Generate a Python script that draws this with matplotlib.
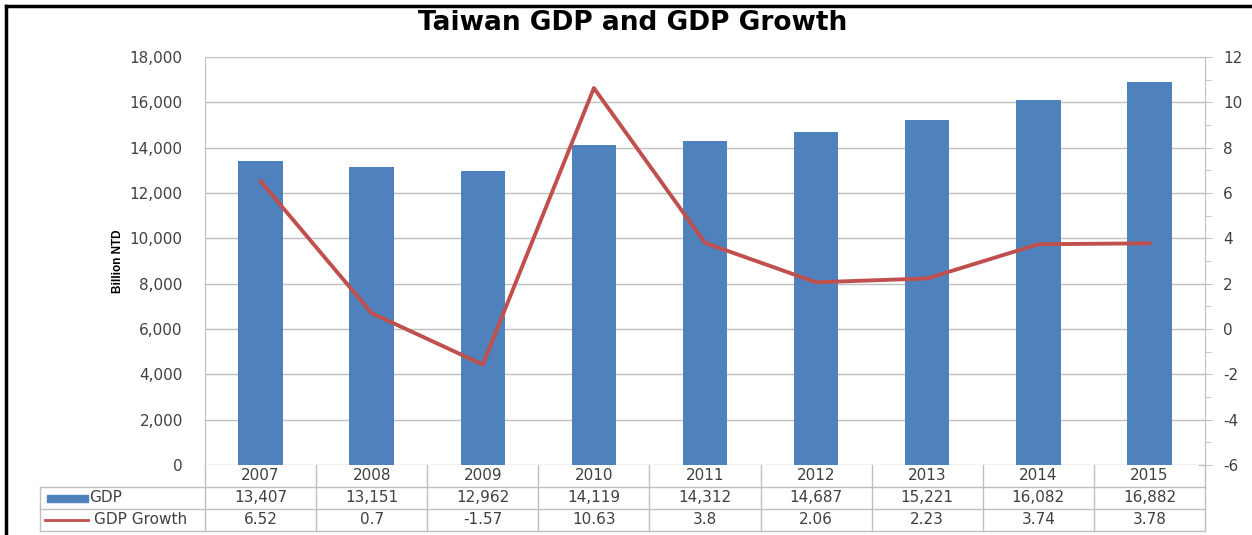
import matplotlib.pyplot as plt
from matplotlib.lines import Line2D
from matplotlib.patches import Rectangle
from matplotlib.ticker import FuncFormatter, MultipleLocator

plt.rcParams["axes.unicode_minus"] = False

# Chart data
years = ["2007", "2008", "2009", "2010", "2011", "2012", "2013", "2014", "2015"]
gdp = [13407, 13151, 12962, 14119, 14312, 14687, 15221, 16082, 16882]
gdp_growth = [6.52, 0.7, -1.57, 10.63, 3.8, 2.06, 2.23, 3.74, 3.78]
gdp_labels = ["13,407", "13,151", "12,962", "14,119", "14,312",
              "14,687", "15,221", "16,082", "16,882"]
growth_labels = ["6.52", "0.7", "-1.57", "10.63", "3.8",
                 "2.06", "2.23", "3.74", "3.78"]

BLUE = "#4F81BD"
RED = "#C0504D"
GRID = "#BFBFBF"
TXT = "#404040"
FS = 11

W, H = 1252, 535
fig = plt.figure(figsize=(W / 100, H / 100), dpi=100)

# plot area in pixels: x 205..1205, y 57..465
px0, px1, py0, py1 = 205, 1205, 57, 465
ax = fig.add_axes([px0 / W, 1 - py1 / H, (px1 - px0) / W, (py1 - py0) / H])
ax2 = ax.twinx()

x = list(range(len(years)))
ax.bar(x, gdp, width=0.4, color=BLUE, zorder=2)
ax.set_xlim(-0.5, len(years) - 0.5)
ax.set_ylim(0, 18000)
ax.yaxis.set_major_locator(MultipleLocator(2000))
ax.yaxis.set_major_formatter(FuncFormatter(lambda v, p: f"{int(v):,}"))
ax.grid(axis="y", color=GRID, linewidth=1, zorder=0)
ax.set_axisbelow(True)
ax.tick_params(axis="y", length=0, pad=16, labelsize=FS, labelcolor=TXT)
ax.tick_params(axis="x", length=0, labelbottom=False)
for s in ["top", "right", "bottom"]:
    ax.spines[s].set_visible(False)
ax.spines["left"].set_color(GRID)

ax2.plot(x, gdp_growth, color=RED, linewidth=2.8, zorder=3)
ax2.set_ylim(-6, 12)
ax2.yaxis.set_major_locator(MultipleLocator(2))
ax2.yaxis.set_minor_locator(MultipleLocator(1))
ax2.tick_params(axis="y", which="major", direction="inout", length=10,
                color=GRID, pad=8, labelsize=FS, labelcolor=TXT)
ax2.tick_params(axis="y", which="minor", direction="out", length=4, color=GRID)
for s in ["top", "left", "bottom"]:
    ax2.spines[s].set_visible(False)
ax2.spines["right"].set_color(GRID)

ax.set_ylabel("Billion NTD", family=["Liberation Sans Narrow", "Liberation Sans"],
              fontweight="bold", fontsize=8.5, color="black")
ax.yaxis.set_label_coords((124 - px0) / (px1 - px0), 0.5)

fig.text(0.505, 1 - 23 / H, "Taiwan GDP and GDP Growth", ha="center", va="center",
         fontsize=19, fontweight="bold", color="black")

# data table below the plot
ph = py1 - py0
def fy(py):
    return (py1 - py) / ph

tr = ax.get_xaxis_transform()
row_lines = [465, 487, 509, 531]
row_mid = [476, 498, 520]
left_px = 40
left_x = -0.5 + (left_px - px0) / ((px1 - px0) / len(years))

for py in row_lines[1:]:
    ax.add_line(Line2D([left_x, len(years) - 0.5], [fy(py), fy(py)], transform=tr,
                       color=GRID, linewidth=1, clip_on=False))
for i in range(len(years) + 1):
    ax.add_line(Line2D([i - 0.5, i - 0.5], [fy(465), fy(531)], transform=tr,
                       color=GRID, linewidth=1, clip_on=False))
ax.add_line(Line2D([left_x, left_x], [fy(487), fy(531)], transform=tr,
                   color=GRID, linewidth=1, clip_on=False))

for i in x:
    ax.text(i, fy(row_mid[0]), years[i], transform=tr, ha="center", va="center",
            fontsize=FS, color=TXT)
    ax.text(i, fy(row_mid[1]), gdp_labels[i], transform=tr, ha="center", va="center",
            fontsize=FS, color=TXT)
    ax.text(i, fy(row_mid[2]), growth_labels[i], transform=tr, ha="center", va="center",
            fontsize=FS, color=TXT)

# legend keys inside the row-label cells
fig.add_artist(Rectangle((47 / W, 1 - 502 / H), 41 / W, 7 / H, color=BLUE,
                         transform=fig.transFigure))
fig.text(89 / W, 1 - row_mid[1] / H, "GDP", ha="left", va="center",
         fontsize=FS, color=TXT)
fig.add_artist(Line2D([45 / W, 88 / W], [1 - 520 / H, 1 - 520 / H], color=RED,
                      linewidth=2, transform=fig.transFigure))
fig.text(94 / W, 1 - row_mid[2] / H, "GDP Growth", ha="left", va="center",
         fontsize=FS, color=TXT)

# black frame (left and top edges)
fig.add_artist(Line2D([6 / W, 6 / W], [0, 1 - 6 / H], color="black", linewidth=2.5,
                      transform=fig.transFigure))
fig.add_artist(Line2D([6 / W, 1250 / W], [1 - 6 / H, 1 - 6 / H], color="black",
                      linewidth=2.5, transform=fig.transFigure))

fig.savefig("out.png", dpi=100)
